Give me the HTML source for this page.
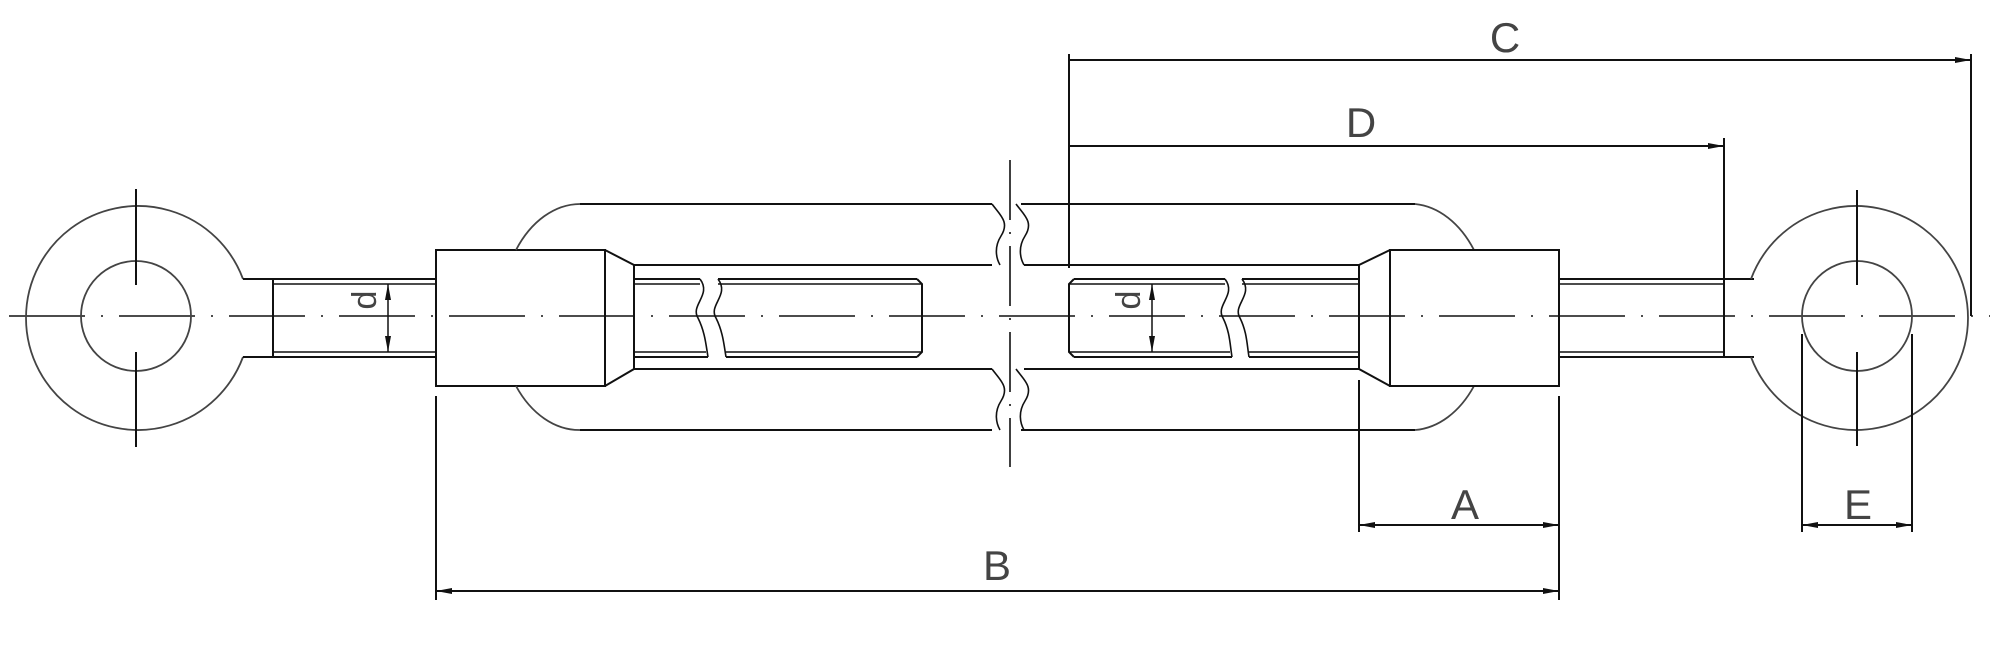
<!DOCTYPE html>
<html><head><meta charset="utf-8"><style>
html,body{margin:0;padding:0;background:#fff}
svg{display:block}
text{font-family:"Liberation Sans",sans-serif;font-size:42px;fill:#444}
</style></head><body>
<svg width="2000" height="645" viewBox="0 0 2000 645" xmlns="http://www.w3.org/2000/svg">
<defs>
<marker id="ar" viewBox="0 0 16 6" refX="16" refY="3" markerWidth="16" markerHeight="6" markerUnits="userSpaceOnUse" orient="auto-start-reverse">
<path d="M0,0 L16,3 L0,6 z" fill="#111"/></marker>
</defs>
<g fill="none" stroke="#111" stroke-width="2">
<line x1="9" y1="316" x2="1990" y2="316" stroke-width="1.6" stroke-dasharray="76 16 2 16"/>
<path d="M243,279 A112,112 0 1 0 243,357" stroke="#444" stroke-width="1.8"/>
<circle cx="136" cy="316" r="55" stroke="#444" stroke-width="1.8"/>
<line x1="136" y1="189" x2="136" y2="285"/><line x1="136" y1="352" x2="136" y2="447"/>
<line x1="243" y1="279" x2="436" y2="279"/><line x1="243" y1="357" x2="436" y2="357"/>
<line x1="273" y1="284" x2="436" y2="284" stroke-width="1.5"/><line x1="273" y1="352" x2="436" y2="352" stroke-width="1.5"/>
<line x1="273" y1="279" x2="273" y2="357"/>
<line x1="388" y1="284" x2="388" y2="352" marker-start="url(#ar)" marker-end="url(#ar)" stroke-width="1.5"/>
<rect x="436" y="250" width="169" height="136"/>
<path d="M605,250 L634,265 L634,369 L605,386"/>
<path d="M580,204 A80,113 0 0 0 516,250" stroke="#444" stroke-width="1.8"/>
<path d="M516,386 A80,113 0 0 0 580,430" stroke="#444" stroke-width="1.8"/>
<line x1="580" y1="204" x2="992" y2="204"/><line x1="580" y1="430" x2="992" y2="430"/>
<line x1="634" y1="265" x2="992" y2="265"/><line x1="634" y1="369" x2="992" y2="369"/>
<line x1="634" y1="279" x2="700" y2="279"/><line x1="634" y1="357" x2="708" y2="357"/>
<line x1="634" y1="284" x2="700" y2="284" stroke-width="1.5"/><line x1="634" y1="352" x2="706" y2="352" stroke-width="1.5"/>
<path d="M700,279 C712,295 690,305 698,318 C705,332 706,345 708,357" stroke-width="1.6"/>
<path d="M718,279 C730,295 708,305 716,318 C723,332 724,345 726,357" stroke-width="1.6"/>
<line x1="718" y1="279" x2="917" y2="279"/><line x1="726" y1="357" x2="917" y2="357"/>
<line x1="718" y1="284" x2="922" y2="284" stroke-width="1.5"/><line x1="726" y1="352" x2="922" y2="352" stroke-width="1.5"/>
<path d="M917,279 L922,284 L922,352 L917,357" />
<line x1="1010" y1="160" x2="1010" y2="467" stroke-width="1.6" stroke-dasharray="60 12 2 12"/>
<path d="M992,204 C1000,215 1010,222 1001,236 C994,247 996,258 1000,265" stroke-width="1.6"/>
<path d="M1016,204 C1024,215 1034,222 1025,236 C1018,247 1020,258 1024,265" stroke-width="1.6"/>
<path d="M992,369 C1000,380 1010,387 1001,401 C994,412 996,423 1000,430" stroke-width="1.6"/>
<path d="M1016,369 C1024,380 1034,387 1025,401 C1018,412 1020,423 1024,430" stroke-width="1.6"/>
<line x1="1021" y1="204" x2="1415" y2="204"/><line x1="1021" y1="430" x2="1415" y2="430"/>
<line x1="1024" y1="265" x2="1359" y2="265"/><line x1="1024" y1="369" x2="1359" y2="369"/>
<path d="M1415,204 A80,113 0 0 1 1474,250" stroke="#444" stroke-width="1.8"/>
<path d="M1474,386 A80,113 0 0 1 1415,430" stroke="#444" stroke-width="1.8"/>
<path d="M1074,279 L1069,284 L1069,352 L1074,357"/>
<line x1="1074" y1="279" x2="1225" y2="279"/><line x1="1074" y1="357" x2="1232" y2="357"/>
<line x1="1069" y1="284" x2="1225" y2="284" stroke-width="1.5"/><line x1="1069" y1="352" x2="1230" y2="352" stroke-width="1.5"/>
<path d="M1225,279 C1237,295 1215,305 1223,318 C1230,332 1230,345 1232,357" stroke-width="1.6"/>
<path d="M1242,279 C1254,295 1232,305 1240,318 C1247,332 1247,345 1249,357" stroke-width="1.6"/>
<line x1="1242" y1="279" x2="1359" y2="279"/><line x1="1249" y1="357" x2="1359" y2="357"/>
<line x1="1242" y1="284" x2="1359" y2="284" stroke-width="1.5"/><line x1="1249" y1="352" x2="1359" y2="352" stroke-width="1.5"/>
<line x1="1152" y1="284" x2="1152" y2="352" marker-start="url(#ar)" marker-end="url(#ar)" stroke-width="1.5"/>
<path d="M1390,250 L1359,265 L1359,369 L1390,386"/>
<rect x="1390" y="250" width="169" height="136"/>
<line x1="1559" y1="279" x2="1754" y2="279"/><line x1="1559" y1="357" x2="1754" y2="357"/>
<line x1="1559" y1="284" x2="1724" y2="284" stroke-width="1.5"/><line x1="1559" y1="352" x2="1724" y2="352" stroke-width="1.5"/>
<line x1="1724" y1="279" x2="1724" y2="357"/>
<path d="M1751,279 A112,112 0 1 1 1751,357" stroke="#444" stroke-width="1.8"/>
<circle cx="1857" cy="316" r="55" stroke="#444" stroke-width="1.8"/>
<line x1="1857" y1="190" x2="1857" y2="285"/><line x1="1857" y1="352" x2="1857" y2="446"/>
<line x1="1069" y1="54" x2="1069" y2="268"/>
<line x1="1971" y1="54" x2="1971" y2="316"/>
<line x1="1724" y1="138" x2="1724" y2="278"/>
<line x1="436" y1="396" x2="436" y2="600"/>
<line x1="1559" y1="396" x2="1559" y2="600"/>
<line x1="1359" y1="380" x2="1359" y2="532"/>
<line x1="1802" y1="334" x2="1802" y2="532"/>
<line x1="1912" y1="334" x2="1912" y2="532"/>
<line x1="1069" y1="60" x2="1971" y2="60" marker-end="url(#ar)"/>
<line x1="1069" y1="146" x2="1724" y2="146" marker-end="url(#ar)"/>
<line x1="436" y1="591" x2="1559" y2="591" marker-start="url(#ar)" marker-end="url(#ar)"/>
<line x1="1359" y1="525" x2="1559" y2="525" marker-start="url(#ar)" marker-end="url(#ar)"/>
<line x1="1802" y1="525" x2="1912" y2="525" marker-start="url(#ar)" marker-end="url(#ar)"/>
</g>
<text x="1505" y="52" text-anchor="middle">C</text>
<text x="1361" y="137" text-anchor="middle">D</text>
<text x="997" y="580" text-anchor="middle">B</text>
<text x="1465" y="519" text-anchor="middle">A</text>
<text x="1858" y="519" text-anchor="middle">E</text>
<text x="0" y="0" style="font-size:34px" transform="translate(376,300) rotate(-90)" text-anchor="middle">d</text>
<text x="0" y="0" style="font-size:34px" transform="translate(1140,300) rotate(-90)" text-anchor="middle">d</text>
</svg>
</body></html>
